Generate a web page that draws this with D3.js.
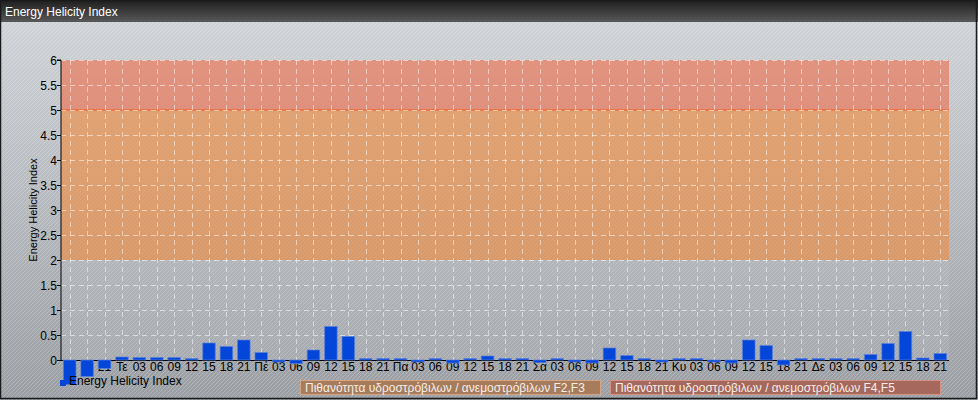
<!DOCTYPE html>
<html>
<head>
<meta charset="utf-8">
<script src="https://cdn.jsdelivr.net/npm/d3@7"></script>
<style>
html,body{margin:0;padding:0;background:#fff;}
svg{display:block;font-family:"Liberation Sans",Arial,sans-serif;}
</style>
</head>
<body>
<svg id="chart" width="978" height="400"></svg>
<script>
const chartTitle = "Energy Helicity Index";
const seriesName = "Energy Helicity Index";
const categories = ["15","18","21","Τε","03","06","09","12","15","18","21","Πέ","03","06","09","12","15","18","21","Πα","03","06","09","12","15","18","21","Σά","03","06","09","12","15","18","21","Κυ","03","06","09","12","15","18","21","Δε","03","06","09","12","15","18","21"];
const values = [-0.49,-0.33,-0.17,0.06,0.05,0.05,0.05,0.03,0.34,0.27,0.40,0.15,-0.04,-0.07,0.20,0.67,0.47,0.03,0.03,0.03,-0.04,0.03,-0.06,0.03,0.08,0.03,0.03,-0.05,0.03,-0.04,-0.06,0.24,0.09,0.03,-0.04,0.03,0.03,-0.04,-0.06,0.40,0.29,-0.10,0.03,0.03,0.03,0.03,0.11,0.33,0.57,0.04,0.13];
const yTicks = [0,0.5,1,1.5,2,2.5,3,3.5,4,4.5,5,5.5,6];
const bandRanges = [[2,5],[5,6]];
const bandLabels = ["Πιθανότητα υδροστρόβιλων / ανεμοστρόβιλων F2,F3","Πιθανότητα υδροστρόβιλων / ανεμοστρόβιλων F4,F5"];

const W = 978, H = 400;
const svg = d3.select("#chart");
const defs = svg.append("defs");

const bg = defs.append("linearGradient").attr("id","bg").attr("x1",0).attr("y1",0).attr("x2",0).attr("y2",1);
bg.append("stop").attr("offset","0%").attr("stop-color","#d2d6da");
bg.append("stop").attr("offset","100%").attr("stop-color","#9a9ea3");

const tg = defs.append("linearGradient").attr("id","tg").attr("x1",0).attr("y1",0).attr("x2",0).attr("y2",1);
tg.append("stop").attr("offset","0%").attr("stop-color","#1e1e1e");
tg.append("stop").attr("offset","100%").attr("stop-color","#585858");

const pat = defs.append("pattern").attr("id","stripes").attr("patternUnits","userSpaceOnUse")
  .attr("width",4).attr("height",4);
pat.append("path").attr("d","M-1,1 l2,-2 M0,4 l4,-4 M3,5 l2,-2")
  .attr("stroke","rgba(255,255,255,0.22)").attr("stroke-width",1);

svg.append("rect").attr("x",0).attr("y",0).attr("width",W).attr("height",H).attr("fill","url(#bg)");
svg.append("rect").attr("x",0).attr("y",0).attr("width",W).attr("height",H).attr("fill","url(#stripes)");
svg.append("rect").attr("x",0).attr("y",0).attr("width",W).attr("height",22).attr("fill","url(#tg)");
svg.append("text").attr("x",5).attr("y",16).attr("fill","#ffffff").attr("font-size",12).text(chartTitle);
svg.append("rect").attr("x",0.5).attr("y",0.5).attr("width",W-2).attr("height",H-2)
  .attr("fill","none").attr("stroke","#1a1a1a").attr("stroke-width",1.5);

const m = {left:61, right:949, top:60, bottom:360};
const x = d3.scaleBand().domain(d3.range(categories.length)).range([m.left,m.right]).paddingInner(0.28).paddingOuter(0.14);
const y = d3.scaleLinear().domain([0,6]).range([m.bottom,m.top]);

svg.append("rect").attr("x",m.left).attr("y",y(2)).attr("width",m.right-m.left).attr("height",y(0)-y(2))
  .attr("fill","rgba(190,195,200,0.25)");

const bandColors = ["rgba(240,141,68,0.65)","rgba(238,112,80,0.64)"];
svg.selectAll("rect.band").data(bandRanges).join("rect").attr("class","band")
  .attr("x",m.left).attr("width",m.right-m.left)
  .attr("y",d=>y(d[1])).attr("height",d=>y(d[0])-y(d[1]))
  .attr("fill",(d,i)=>bandColors[i]);
svg.append("line").attr("x1",m.left).attr("x2",m.right).attr("y1",y(5)).attr("y2",y(5))
  .attr("stroke","#e8703c").attr("stroke-width",1.5);

const cx = i => x(i) + x.bandwidth()/2;
svg.append("g").selectAll("line").data(yTicks.filter(t=>t>0)).join("line")
  .attr("x1",m.left).attr("x2",m.right).attr("y1",d=>Math.round(y(d))+0.5).attr("y2",d=>Math.round(y(d))+0.5)
  .attr("stroke","rgba(255,255,255,0.55)").attr("stroke-dasharray","5,4");
svg.append("g").selectAll("line").data(d3.range(categories.length)).join("line")
  .attr("x1",d=>Math.round(cx(d))+0.5).attr("x2",d=>Math.round(cx(d))+0.5).attr("y1",m.top).attr("y2",m.bottom)
  .attr("stroke","rgba(255,255,255,0.5)").attr("stroke-dasharray","5,4");

const yAxis = d3.axisLeft(y).tickValues(yTicks).tickSize(4).tickFormat(d=>d3.format("")(d));
const ya = svg.append("g").attr("transform",`translate(${m.left},0)`).call(yAxis);
ya.select(".domain").attr("stroke","#000").attr("d",`M-4,${m.top}H0V${m.bottom}`);
ya.selectAll("text").attr("font-size",12).attr("fill","#000").attr("font-family","Liberation Sans, Arial, sans-serif").attr("x",-4).attr("dy","0.35em");
ya.selectAll("line").attr("stroke","#000");

svg.append("text").attr("transform",`translate(37,${(m.top+m.bottom)/2}) rotate(-90)`)
  .attr("text-anchor","middle").attr("font-size",11).attr("fill","#000").text(seriesName);

const xa = svg.append("g").attr("transform",`translate(0,${m.bottom})`)
  .call(d3.axisBottom(x).tickSize(0).tickFormat(i=>categories[i]));
xa.select(".domain").remove();
xa.selectAll("text").attr("font-size",12).attr("fill","#000").attr("font-family","Liberation Sans, Arial, sans-serif").attr("dy","0.71em").attr("y",2);

svg.append("line").attr("x1",m.left).attr("x2",m.right).attr("y1",m.bottom+0.5).attr("y2",m.bottom+0.5)
  .attr("stroke","#000").attr("stroke-width",1.2);

svg.append("g").selectAll("rect").data(values).join("rect")
  .attr("x",(d,i)=>x(i)).attr("width",x.bandwidth())
  .attr("y",d=>y(Math.max(0,d))).attr("height",d=>Math.abs(y(d)-y(0)))
  .attr("fill","#0445da").attr("stroke","rgba(90,130,220,0.7)").attr("stroke-width",1);

svg.append("rect").attr("x",60).attr("y",380).attr("width",6).attr("height",6).attr("fill","#0445da");
svg.append("text").attr("x",69).attr("y",385).attr("font-size",12).attr("fill","#000").text(seriesName);

const boxes = [{x:300,w:300,fill:"#a67c5c",stroke:"#d4a684"},{x:610,w:330,fill:"#a6685c",stroke:"#d49284"}];
boxes.forEach((b,i)=>{
  svg.append("rect").attr("x",b.x+0.5).attr("y",380.5).attr("width",b.w).attr("height",14)
    .attr("fill",b.fill).attr("stroke",b.stroke);
  svg.append("text").attr("x",b.x+5).attr("y",392).attr("font-size",12).attr("fill","#f5ede6").text(bandLabels[i]);
});
</script>
</body>
</html>
